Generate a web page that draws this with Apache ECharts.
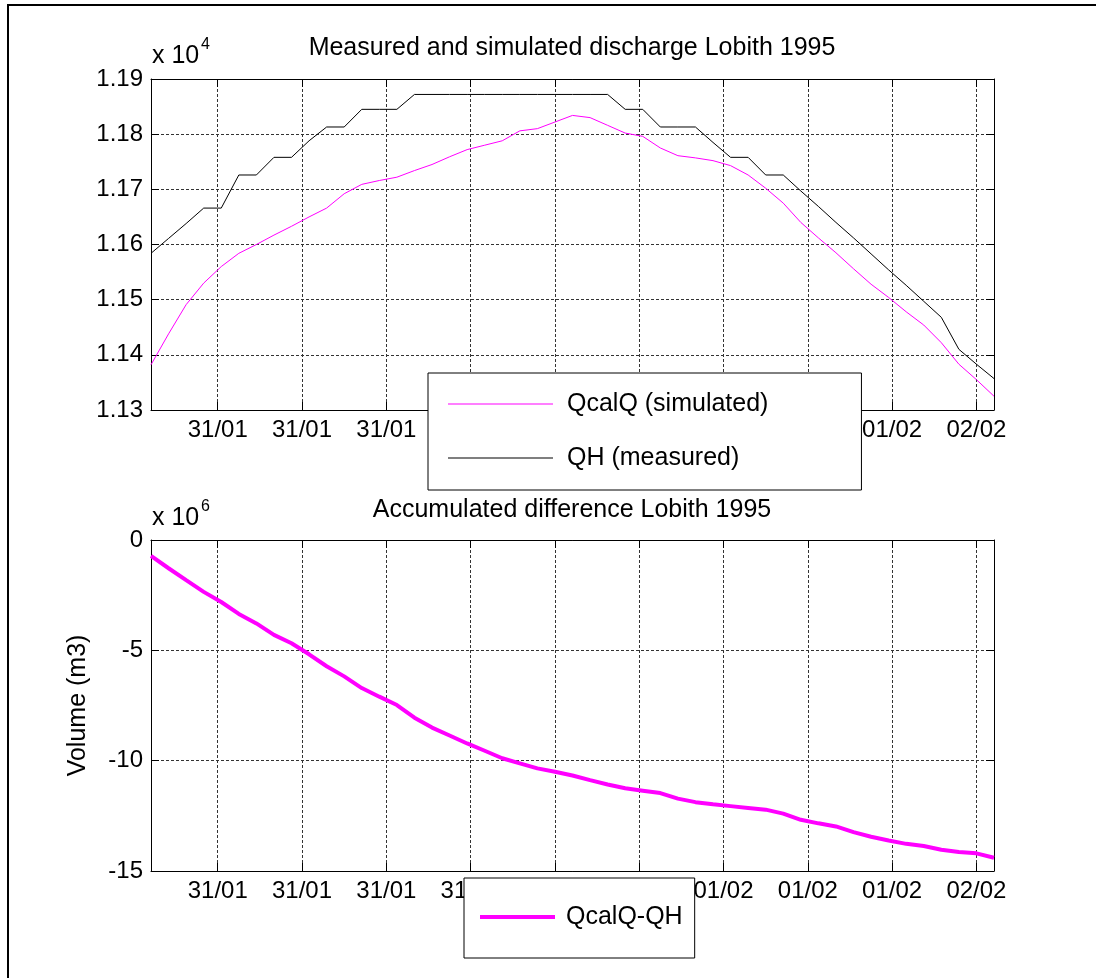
<!DOCTYPE html>
<html>
<head>
<meta charset="utf-8">
<script src="https://cdn.jsdelivr.net/npm/echarts@6/dist/echarts.min.js"></script>
<style>
  html, body { margin: 0; padding: 0; background: #fff; }
  #chart { width: 1096px; height: 978px; }
</style>
</head>
<body>
<div id="chart"></div>
<script>
// Hourly time stamps, in hours since 31/01 00:00
const hours = [1, 2, 3, 4, 5, 6, 7, 8, 9, 10, 11, 12, 13, 14, 15, 16, 17, 18, 19, 20,
  21, 22, 23, 24, 25, 26, 27, 28, 29, 30, 31, 32, 33, 34, 35, 36, 37, 38, 39, 40,
  41, 42, 43, 44, 45, 46, 47, 48, 49];

// Date ticks (every 0.2 day) and their dd/mm labels
const tickHours = [4.8, 9.6, 14.4, 19.2, 24, 28.8, 33.6, 38.4, 43.2, 48];
const tickLabels = ['31/01', '31/01', '31/01', '31/01', '01/02', '01/02', '01/02', '01/02', '01/02', '02/02'];

// Discharge at Lobith (m3/s)
const qcalq = [11382, 11438, 11491, 11530, 11560, 11584, 11600, 11617, 11633, 11650,
  11666, 11692, 11709, 11716, 11722, 11734, 11745, 11759, 11772, 11780,
  11788, 11806, 11810, 11822, 11834, 11830, 11816, 11802, 11796, 11775,
  11761, 11757, 11752, 11743, 11726, 11702, 11675, 11640, 11612, 11585,
  11556, 11528, 11504, 11478, 11454, 11422, 11383, 11355, 11325];
const qh = [11584, 11611, 11638, 11666, 11666, 11726, 11726, 11758, 11758, 11788,
  11813, 11813, 11845, 11845, 11845, 11872, 11872, 11872, 11872, 11872,
  11872, 11872, 11872, 11872, 11872, 11872, 11872, 11845, 11845, 11813,
  11813, 11813, 11785, 11758, 11758, 11726, 11726, 11697, 11669, 11640,
  11612, 11583, 11554, 11526, 11497, 11468, 11410, 11383, 11357];

// Accumulated volume difference QcalQ-QH (m3)
const accDiff = [-720000, -1280000, -1820000, -2350000, -2810000, -3350000, -3780000, -4300000, -4680000, -5180000,
  -5720000, -6180000, -6710000, -7100000, -7480000, -8050000, -8500000, -8860000, -9220000, -9550000,
  -9890000, -10120000, -10350000, -10500000, -10670000, -10880000, -11080000, -11250000, -11360000, -11470000,
  -11720000, -11880000, -11980000, -12060000, -12140000, -12220000, -12400000, -12680000, -12840000, -12980000,
  -13240000, -13450000, -13620000, -13770000, -13870000, -14040000, -14140000, -14200000, -14400000];

const FONT = 'Liberation Sans, Arial, sans-serif';
const FS_TICK = 24;
const FS = 25;
const pairs = (vals) => hours.map((h, i) => [h, vals[i]]);
const tickText = (v) => {
  const i = tickHours.findIndex(t => Math.abs(t - v) < 1e-6);
  return i >= 0 ? tickLabels[i] : '';
};

const gridLine = { show: true, lineStyle: { color: '#333', width: 1, type: [3, 2] } };
const boxLine = { show: true, onZero: false, lineStyle: { color: '#000', width: 1 } };
const inTick = { show: true, inside: true, length: 8, lineStyle: { color: '#000', width: 1 } };

function xAxes(gridIndex) {
  return [
    {
      type: 'value', gridIndex, position: 'bottom', min: 1, max: 49,
      axisLine: boxLine,
      axisTick: Object.assign({ customValues: tickHours }, inTick),
      axisLabel: { customValues: tickHours, formatter: tickText, color: '#000', fontFamily: FONT, fontSize: FS_TICK, margin: 8 },
      splitLine: gridLine
    },
    {
      type: 'value', gridIndex, position: 'top', min: 1, max: 49,
      axisLine: boxLine,
      axisTick: Object.assign({ customValues: tickHours }, inTick),
      axisLabel: { show: false },
      splitLine: { show: false }
    }
  ];
}

function yAxes(gridIndex, min, max, interval, fmt, name) {
  return [
    {
      type: 'value', gridIndex, position: 'left', min, max, interval,
      name: name || '', nameLocation: 'middle', nameGap: 60,
      nameTextStyle: { color: '#000', fontFamily: FONT, fontSize: FS },
      axisLine: boxLine, axisTick: inTick,
      axisLabel: { formatter: fmt, color: '#000', fontFamily: FONT, fontSize: FS_TICK, margin: 8 },
      splitLine: gridLine
    },
    {
      type: 'value', gridIndex, position: 'right', min, max, interval,
      axisLine: boxLine, axisTick: inTick,
      axisLabel: { show: false }, splitLine: { show: false }
    }
  ];
}

const legendText = (padLeft) => ({ color: '#000', fontFamily: FONT, fontSize: FS, lineHeight: 26, padding: [0, 0, 0, padLeft] });
const plainText = (size) => ({ color: '#000', fontFamily: FONT, fontSize: size, fontWeight: 'normal', lineHeight: size + 1 });

const option = {
  animation: false,
  backgroundColor: '#fff',
  graphic: [{
    type: 'rect', silent: true, z: 100,
    shape: { x: 8, y: 5, width: 1300, height: 1200 },
    style: { fill: 'none', stroke: '#000', lineWidth: 2 }
  }],
  title: [
    { text: 'Measured and simulated discharge Lobith 1995', left: 572, top: 35, textAlign: 'center', padding: 0, textStyle: plainText(FS) },
    { text: 'x 10', left: 152, top: 43, padding: 0, textStyle: plainText(FS) },
    { text: '4', left: 201, top: 36, padding: 0, textStyle: plainText(16) },
    { text: 'Accumulated difference Lobith 1995', left: 572, top: 497, textAlign: 'center', padding: 0, textStyle: plainText(FS) },
    { text: 'x 10', left: 152, top: 505, padding: 0, textStyle: plainText(FS) },
    { text: '6', left: 201, top: 498, padding: 0, textStyle: plainText(16) }
  ],
  legend: [
    {
      data: [
        { name: 'QcalQ (simulated)', icon: 'rect' },
        { name: 'QH (measured)', icon: 'rect' }
      ],
      orient: 'vertical', left: 428, top: 373,
      padding: [18, 93, 19, 20], itemGap: 28,
      itemWidth: 105, itemHeight: 1,
      backgroundColor: '#fff', borderColor: '#000', borderWidth: 1, borderRadius: 0,
      textStyle: legendText(9), selectedMode: false
    },
    {
      data: [{ name: 'QcalQ-QH', icon: 'rect' }],
      orient: 'vertical', left: 464, top: 878,
      padding: [26, 12, 28, 16],
      itemWidth: 75, itemHeight: 4,
      backgroundColor: '#fff', borderColor: '#000', borderWidth: 1, borderRadius: 0,
      textStyle: legendText(6), selectedMode: false
    }
  ],
  grid: [
    { left: 151, top: 79, width: 843, height: 331, containLabel: false },
    { left: 151, top: 540, width: 843, height: 331, containLabel: false }
  ],
  xAxis: [].concat(xAxes(0), xAxes(1)),
  yAxis: [].concat(
    yAxes(0, 11300, 11900, 100, v => (v / 1e4).toFixed(2)),
    yAxes(1, -15000000, 0, 5000000, v => String(v / 1e6), 'Volume (m3)')
  ),
  series: [
    { name: 'QcalQ (simulated)', type: 'line', xAxisIndex: 0, yAxisIndex: 0, data: pairs(qcalq),
      symbol: 'none', lineStyle: { color: '#ff00ff', width: 1 }, itemStyle: { color: '#ff00ff' } },
    { name: 'QH (measured)', type: 'line', xAxisIndex: 0, yAxisIndex: 0, data: pairs(qh),
      symbol: 'none', lineStyle: { color: '#000', width: 1 }, itemStyle: { color: '#000' } },
    { name: 'QcalQ-QH', type: 'line', xAxisIndex: 2, yAxisIndex: 2, data: pairs(accDiff),
      symbol: 'none', lineStyle: { color: '#ff00ff', width: 4 }, itemStyle: { color: '#ff00ff' } }
  ]
};

const chart = echarts.init(document.getElementById('chart'), null, { renderer: 'canvas' });
chart.setOption(option);
</script>
</body>
</html>
